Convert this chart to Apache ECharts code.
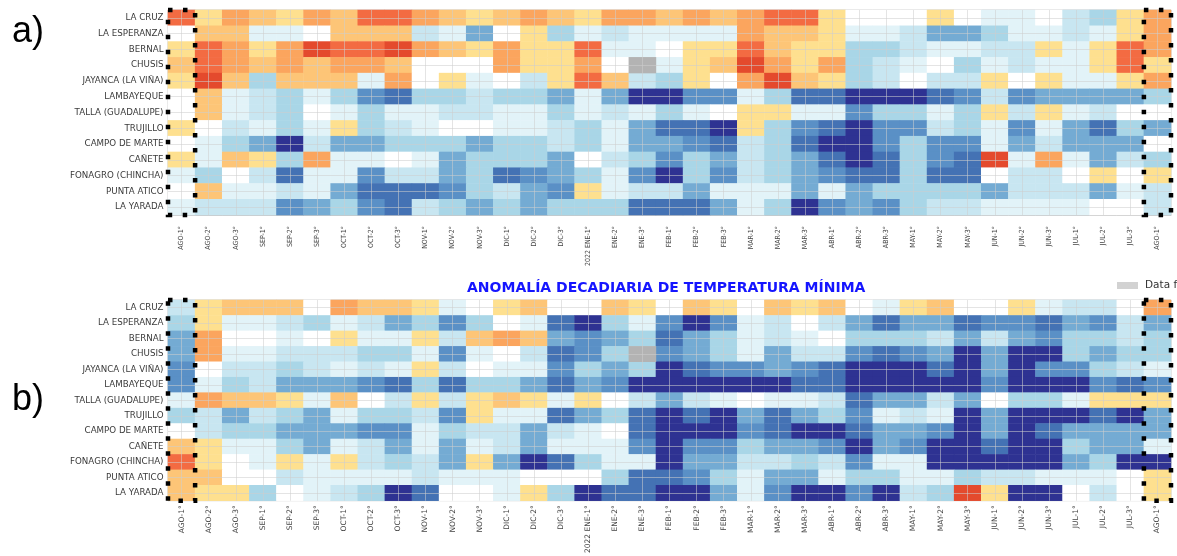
<!DOCTYPE html>
<html><head><meta charset="utf-8">
<script src="https://cdn.jsdelivr.net/npm/echarts@6/dist/echarts.min.js"></script>
<style>html,body{margin:0;padding:0;background:#fff}#c{width:1177px;height:556px}</style>
</head><body><div id="c"></div>
<script>
const periods = ['AGO-1°','AGO-2°','AGO-3°','SEP-1°','SEP-2°','SEP-3°','OCT-1°','OCT-2°','OCT-3°','NOV-1°','NOV-2°','NOV-3°','DIC-1°','DIC-2°','DIC-3°','2022 ENE-1°','ENE-2°','ENE-3°','FEB-1°','FEB-2°','FEB-3°','MAR-1°','MAR-2°','MAR-3°','ABR-1°','ABR-2°','ABR-3°','MAY-1°','MAY-2°','MAY-3°','JUN-1°','JUN-2°','JUN-3°','JUL-1°','JUL-2°','JUL-3°','AGO-1°'];
const stations = ['LA CRUZ','LA ESPERANZA','BERNAL','CHUSIS','JAYANCA (LA VIÑA)','LAMBAYEQUE','TALLA (GUADALUPE)','TRUJILLO','CAMPO DE MARTE','CAÑETE','FONAGRO (CHINCHA)','PUNTA ATICO','LA YARADA'];
const titleB = 'ANOMALÍA DECADIARIA DE TEMPERATURA MÍNIMA';
const missingLabel = 'Data faltante';

// Panel a) anomalies (°C, estimated), one array per station; null = no data
const a_LA_CRUZ = [2,0.5,1.5,1,0.5,1.5,1,2,2,1.5,1,0.5,1,1.5,1,0.5,1.5,1.5,1,1.5,1,1.5,2,2,0.5,0,0,0,0.5,0,-0.3,-0.3,0,-0.6,-1,0.5,1.5];
const a_LA_ESPERANZA = [0,1,1,-0.3,-0.3,0,1,1,1,-0.6,-0.3,-1.5,0,0.5,-1,-0.3,-0.6,-0.3,-0.3,-0.3,-0.3,1.5,1,1,0.5,-0.3,-0.3,-0.6,-1.5,-1.5,-1,-0.3,-0.3,-0.6,-0.3,0.5,1.5];
const a_BERNAL = [0.5,2,1.5,0.5,1.5,2.5,2,2,2.5,1.5,1,0.5,1.5,0.5,0.5,2,-0.3,-0.3,0,0.5,0.5,2,1,0.5,0.5,-1,-1,-0.6,-0.3,-0.3,-0.6,-0.6,0.5,-0.3,0.5,2,1.5];
const a_CHUSIS = [1,2,1.5,1,1.5,1,1.5,1.5,1,0,0,0,1.5,0.5,0.5,1.5,0,null,-0.3,0.5,1,2.5,1.5,0.5,1.5,-1,-0.6,-0.3,0,-1,-0.3,-0.6,-0.3,-0.3,0.5,2,0.5];
const a_JAYANCA = [0.5,2.5,1,-1,1,1,1,-0.3,1.5,0,0.5,-0.3,0,-0.6,0.5,2,1,-0.6,-1,0.5,0,1.5,2.5,1,0.5,-1,-0.6,0,-0.6,-0.6,0.5,0,0.5,-0.3,-0.3,0.5,1.5];
const a_LAMBAYEQUE = [0,1,-0.3,-0.6,-1,-0.3,-1,-2,-2.5,-1,-1,-0.6,-1,-1,-1.5,-0.3,-1.5,-3,-3,-2,-2,-0.3,-1,-2.5,-2.5,-3,-3,-3,-2.5,-2,-0.6,-2,-1.5,-1.5,-1.5,-1.5,-1];
const a_TALLA = [0,1,-0.3,-0.6,-1,0,-0.3,-1,-0.3,-0.3,-0.6,-0.6,-0.3,-0.3,-1,-0.3,-0.6,-0.3,-1,-0.3,0,0.5,0.5,-0.3,-0.3,-2,-1,-1,-0.3,-1,0.5,-0.6,0.5,-0.3,-0.6,0,0];
const a_TRUJILLO = [0.5,0,-0.6,-0.3,-1,-0.3,0.5,-1,-0.6,-0.3,0,0,-0.3,-0.3,-0.6,-1,-0.3,-1.5,-2.5,-2.5,-3,0.5,-1,-2,-2.5,-3,-2,-2,-0.6,-1,-0.3,-2,-0.3,-1.5,-2.5,-1,-1.5];
const a_CAMPO_DE_MARTE = [0,-0.3,-1,-1.5,-3,-0.6,-1.5,-1.5,-1,-1,-1,-1.5,-1,-1,-0.6,-1,-0.3,-1.5,-1.5,-2,-2.5,-0.6,-1,-2.5,-3,-3,-2,-1,-2,-2,-0.3,-1.5,-0.6,-1.5,-1.5,-1.5,0];
const a_CANETE = [0.5,-0.3,1,0.5,-1,1.5,-0.3,-0.3,0,-0.3,-1.5,-1,-1,-1,-1.5,0,-0.6,-1,-2,-1,-1.5,-0.6,-1,-1.5,-2.5,-3,-2.5,-1,-2,-2.5,2.5,-0.3,1.5,-0.3,-1.5,-0.6,-1];
const a_FONAGRO = [-0.3,-1,0,-0.6,-2.5,-0.3,-0.3,-2,-0.6,-0.6,-1.5,-1,-2.5,-2,-1.5,-1,-0.3,-2,-3,-1,-2,-0.6,-1,-1.5,-2,-2.5,-2.5,-1,-2.5,-2.5,0,-0.6,-0.6,0,0.5,0,0.5];
const a_PUNTA_ATICO = [0,1,-0.3,-0.3,-0.6,-0.3,-1.5,-2.5,-2.5,-2.5,-2,-1,-0.6,-1.5,-2,0.5,-0.3,-0.6,-0.6,-1.5,-0.3,-0.3,-0.3,-1.5,-0.3,-1.5,-1,-1,-1,-1,-1.5,-0.6,-0.6,-0.6,-1.5,-0.3,-0.6];
const a_LA_YARADA = [-0.3,-0.6,-0.6,-0.6,-2,-1.5,-1,-2,-2.5,-0.6,-1,-1.5,-1,-1.5,-1,-1,-1,-2.5,-2.5,-2.5,-1.5,-0.3,-1,-3,-2,-1.5,-2,-1,-0.6,-0.6,-0.3,-0.3,-0.3,-0.3,0,0,-0.6];

// Panel b) anomalía de temperatura mínima
const b_LA_CRUZ = [-0.6,0.5,1,1,1,0,1.5,1,1,0.5,-0.3,0,0.5,1,0,0,1,0.5,0,1,0.5,0,1,0.5,1,0,-0.3,0.5,1,0,0,0.5,-0.3,-0.6,-0.6,0,1.5];
const b_LA_ESPERANZA = [-1,0.5,-0.3,-0.3,-0.6,-1,-0.3,-0.6,-1.5,-1,-2,-1,0,-0.3,-2.5,-3,-1,-0.3,-2,-3,-2,-0.3,-0.6,0,-0.6,-1.5,-2.5,-1.5,-1.5,-2.5,-2,-2,-2.5,-1.5,-2,-0.6,-1.5];
const b_BERNAL = [-1.5,1.5,0,0,-0.3,0,0.5,-0.3,-0.3,0.5,-0.6,1,1.5,1,-1.5,-2,-1.5,-1,-2.5,-1.5,-1,-0.3,-0.6,-0.3,0,-1,-1,-1,-0.6,-1.5,-0.6,-1.5,-2,-1,-1,-0.6,-1];
const b_CHUSIS = [-1.5,1.5,-0.3,-0.3,-0.6,-0.6,-0.6,-1,-1,-0.3,-2,-0.3,0,-0.6,-2.5,-2,-1,null,-2,-1.5,-1,-0.3,-1.5,-0.6,-0.6,-2,-2.5,-2,-1.5,-3,-1.5,-3,-3,-1,-1.5,-1,-1];
const b_JAYANCA = [-2,0,-0.6,-0.6,-1,-0.6,-0.3,-0.6,-0.3,0.5,-0.6,0,-0.3,-0.3,-2,-1,-1.5,-1,-3,-2.5,-2,-2,-1.5,-2,-2.5,-3,-3,-3,-2.5,-3,-1.5,-3,-2,-2,-1,-0.6,-0.3];
const b_LAMBAYEQUE = [-2,-0.3,-1,-0.6,-1.5,-1.5,-1.5,-2,-2.5,-1,-2.5,-1,-1,-1.5,-2.5,-1.5,-2,-3,-3,-3,-3,-3,-3,-2.5,-2.5,-3,-3,-3,-3,-3,-2,-3,-3,-3,-2,-2.5,-2];
const b_TALLA = [-0.3,1.5,1,1,0.5,-0.3,1,0,-0.6,0.5,-0.6,0.5,1,0.5,-0.3,0.5,0,-0.6,-1.5,-0.6,-0.3,0,-0.3,-0.3,-0.6,-2.5,-1.5,-1.5,-0.6,-1.5,0,-1,-1,-0.3,0.5,0.5,0.5];
const b_TRUJILLO = [-1,-0.6,-1.5,-0.6,-1,-1.5,-0.3,-1,-1,-0.6,-2,0.5,-0.3,-0.3,-2.5,-1.5,-1,-2.5,-3,-2.5,-3,-1.5,-2.5,-1.5,-1,-2,-0.3,-0.6,-0.3,-3,-1.5,-3,-3,-3,-2.5,-3,-1.5];
const b_CAMPO_DE_MARTE = [0,-0.6,-1,-1,-1.5,-1.5,-1.5,-2,-2,-0.3,-1,-0.6,-0.6,-1.5,-0.6,-0.3,0,-2.5,-3,-3,-3,-2,-2.5,-3,-3,-2.5,-1.5,-1.5,-2,-3,-1.5,-3,-2.5,-1.5,-1.5,-1.5,-1.5];
const b_CANETE = [1,0.5,-0.3,-0.3,-1,-1.5,-0.3,-0.6,-1.5,-0.3,-1.5,-0.3,-0.6,-1.5,-0.3,-0.3,-0.3,-2,-3,-2,-2,-1,-1.5,-1.5,-2,-3,-1.5,-2,-3,-3,-2.5,-3,-3,-1,-1.5,-1.5,-0.3];
const b_FONAGRO = [2,0.5,0,-0.3,0.5,-0.3,0.5,-0.6,-1,-0.6,-1.5,0.5,-1.5,-3,-2.5,-1,-0.3,-0.3,-3,-1.5,-1.5,-0.6,-0.6,-1,-0.6,-2,-0.3,-0.3,-3,-3,-3,-3,-3,-1.5,-1,-3,-3];
const b_PUNTA_ATICO = [1,1,0,0,-0.6,-0.3,-0.3,-0.3,-0.3,-0.6,-0.3,-0.3,-0.3,0,0,0,-1,-2.5,-2.5,-2,-1,-0.3,-1.5,-1.5,-0.3,-1,-1,-0.3,-0.3,-1,-0.6,-0.6,-0.3,-0.3,-0.3,0,0.5];
const b_LA_YARADA = [1,0.5,0.5,-1,0,-0.3,-0.6,-1,-3,-2.5,0,0,-0.3,0.5,-1,-3,-2.5,-2.5,-3,-3,-1.5,-0.3,-2,-3,-3,-2,-3,-0.6,-1,2.5,0.5,-3,-3,0,-0.6,0,0.5];

const panelA = [a_LA_CRUZ,a_LA_ESPERANZA,a_BERNAL,a_CHUSIS,a_JAYANCA,a_LAMBAYEQUE,a_TALLA,a_TRUJILLO,a_CAMPO_DE_MARTE,a_CANETE,a_FONAGRO,a_PUNTA_ATICO,a_LA_YARADA];
const panelB = [b_LA_CRUZ,b_LA_ESPERANZA,b_BERNAL,b_CHUSIS,b_JAYANCA,b_LAMBAYEQUE,b_TALLA,b_TRUJILLO,b_CAMPO_DE_MARTE,b_CANETE,b_FONAGRO,b_PUNTA_ATICO,b_LA_YARADA];

function cells(rows){
  const data = [], miss = [];
  rows.forEach((r, j) => r.forEach((v, i) => {
    if (v === null) miss.push([i, j, 0]); else data.push([i, j, v]);
  }));
  return {data, miss};
}
const A = cells(panelA), B = cells(panelB);

const pieces = [
  {lt:-2.75, color:'#2e3292'},
  {gte:-2.75, lt:-2.25, color:'#4472b4'},
  {gte:-2.25, lt:-1.75, color:'#5a90c6'},
  {gte:-1.75, lt:-1.25, color:'#74abd3'},
  {gte:-1.25, lt:-0.8, color:'#a9d6e7'},
  {gte:-0.8, lt:-0.45, color:'#c8e6f1'},
  {gte:-0.45, lt:-0.15, color:'#e2f3f8'},
  {gte:-0.15, lt:0.25, color:'#ffffff'},
  {gte:0.25, lt:0.75, color:'#fee08f'},
  {gte:0.75, lt:1.25, color:'#fdc577'},
  {gte:1.25, lt:1.75, color:'#fba55e'},
  {gte:1.75, lt:2.25, color:'#f36b42'},
  {gte:2.25, color:'#e44a2d'}
];

const gridLines = {
  silent: true, symbol: ['none','none'], animation: false,
  label: {show: false},
  lineStyle: {color: 'rgba(205,205,205,0.55)', width: 1, type: 'solid'},
  emphasis: {disabled: true},
  data: [...periods.map((_, i) => ({xAxis: i})), ...stations.map((_, j) => ({yAxis: j}))]
};

function xAx(gi, fontFamily, fontSize, margin){
  return {type:'category', gridIndex:gi, data:periods,
    axisTick:{alignWithLabel:true, length:4, lineStyle:{color:'#555'}},
    axisLine:{lineStyle:{color:'#c8c8c8'}},
    axisLabel:{rotate:90, interval:0, fontFamily, fontSize, color:'#444', margin},
    splitLine:{show:false}};
}
function yAx(gi){
  return {type:'category', gridIndex:gi, data:stations, inverse:true,
    axisTick:{alignWithLabel:true, length:4, lineStyle:{color:'#555'}},
    axisLine:{lineStyle:{color:'#c8c8c8'}},
    axisLabel:{interval:0, fontFamily:'DejaVu Sans', fontSize:8.7, color:'#3a3a3a', margin:4.5},
    splitLine:{show:false}};
}

const chart = echarts.init(document.getElementById('c'), null, {renderer:'canvas'});
chart.setOption({
  animation: false,
  backgroundColor: '#fff',
  title: {text: titleB, left: 467, top: 281, padding: 0,
    textStyle: {color:'#1515ff', fontSize:14, fontWeight:'bold', fontFamily:'DejaVu Sans'}},
  legend: {left: 1117, top: 280, padding: 0, itemWidth: 21, itemHeight: 7, itemGap: 8,
    icon: 'rect', selectedMode: false,
    textStyle: {fontFamily:'DejaVu Sans', fontSize: 10.5, color:'#333', padding:[0,0,0,2]},
    data: [{name: missingLabel, itemStyle: {color:'#d2d2d2'}}]},
  grid: [
    {left:168, top:10, width:1003, height:205, show:true, borderColor:'#c8c8c8', borderWidth:1, backgroundColor:'#fff'},
    {left:168, top:300, width:1003, height:204, show:true, borderColor:'#c8c8c8', borderWidth:1, backgroundColor:'#fff'}
  ],
  xAxis: [xAx(0, 'DejaVu Sans Condensed', 7, 11), xAx(1, 'DejaVu Sans', 7.5, 4.5)],
  yAxis: [yAx(0), yAx(1)],
  visualMap: {type:'piecewise', show:false, seriesIndex:[0,2], dimension:2, pieces},
  series: [
    {type:'heatmap', name:'a', xAxisIndex:0, yAxisIndex:0, data:A.data, emphasis:{disabled:true}, markLine:gridLines},
    {type:'heatmap', name:missingLabel, xAxisIndex:0, yAxisIndex:0, data:A.miss, itemStyle:{color:'#b3b3b3'}, emphasis:{disabled:true}},
    {type:'heatmap', name:'b', xAxisIndex:1, yAxisIndex:1, data:B.data, emphasis:{disabled:true}, markLine:gridLines},
    {type:'heatmap', name:missingLabel, xAxisIndex:1, yAxisIndex:1, data:B.miss, itemStyle:{color:'#b3b3b3'}, emphasis:{disabled:true}}
  ]
});

function colBox(gi, col){
  const f = {gridIndex: gi};
  const c0 = chart.convertToPixel(f, [col, 0]);
  const c1 = chart.convertToPixel(f, [col === 0 ? 1 : col - 1, 1]);
  const cl = chart.convertToPixel(f, [col, stations.length - 1]);
  const bw = Math.abs(c1[0] - c0[0]);
  const bh = Math.abs(c1[1] - c0[1]);
  const top = Math.min(c0[1], cl[1]) - bh / 2;
  const bottom = Math.max(c0[1], cl[1]) + bh / 2;
  return {type:'rect', z: 100, silent: true,
    shape: {x: c0[0] - bw / 2, y: top, width: bw, height: bottom - top},
    style: {fill: null, stroke:'#000', lineWidth: 4.5, lineDash: [4.5, 10.5]}};
}
chart.setOption({graphic: [
  colBox(0, 0), colBox(0, periods.length - 1), colBox(1, 0), colBox(1, periods.length - 1),
  {type:'text', left: 12, top: 14, silent: true, style: {text:'a)', font:'36px "Liberation Sans", Arial, sans-serif', fill:'#000'}},
  {type:'text', left: 12, top: 382, silent: true, style: {text:'b)', font:'36px "Liberation Sans", Arial, sans-serif', fill:'#000'}}
]});
</script>
</body></html>
